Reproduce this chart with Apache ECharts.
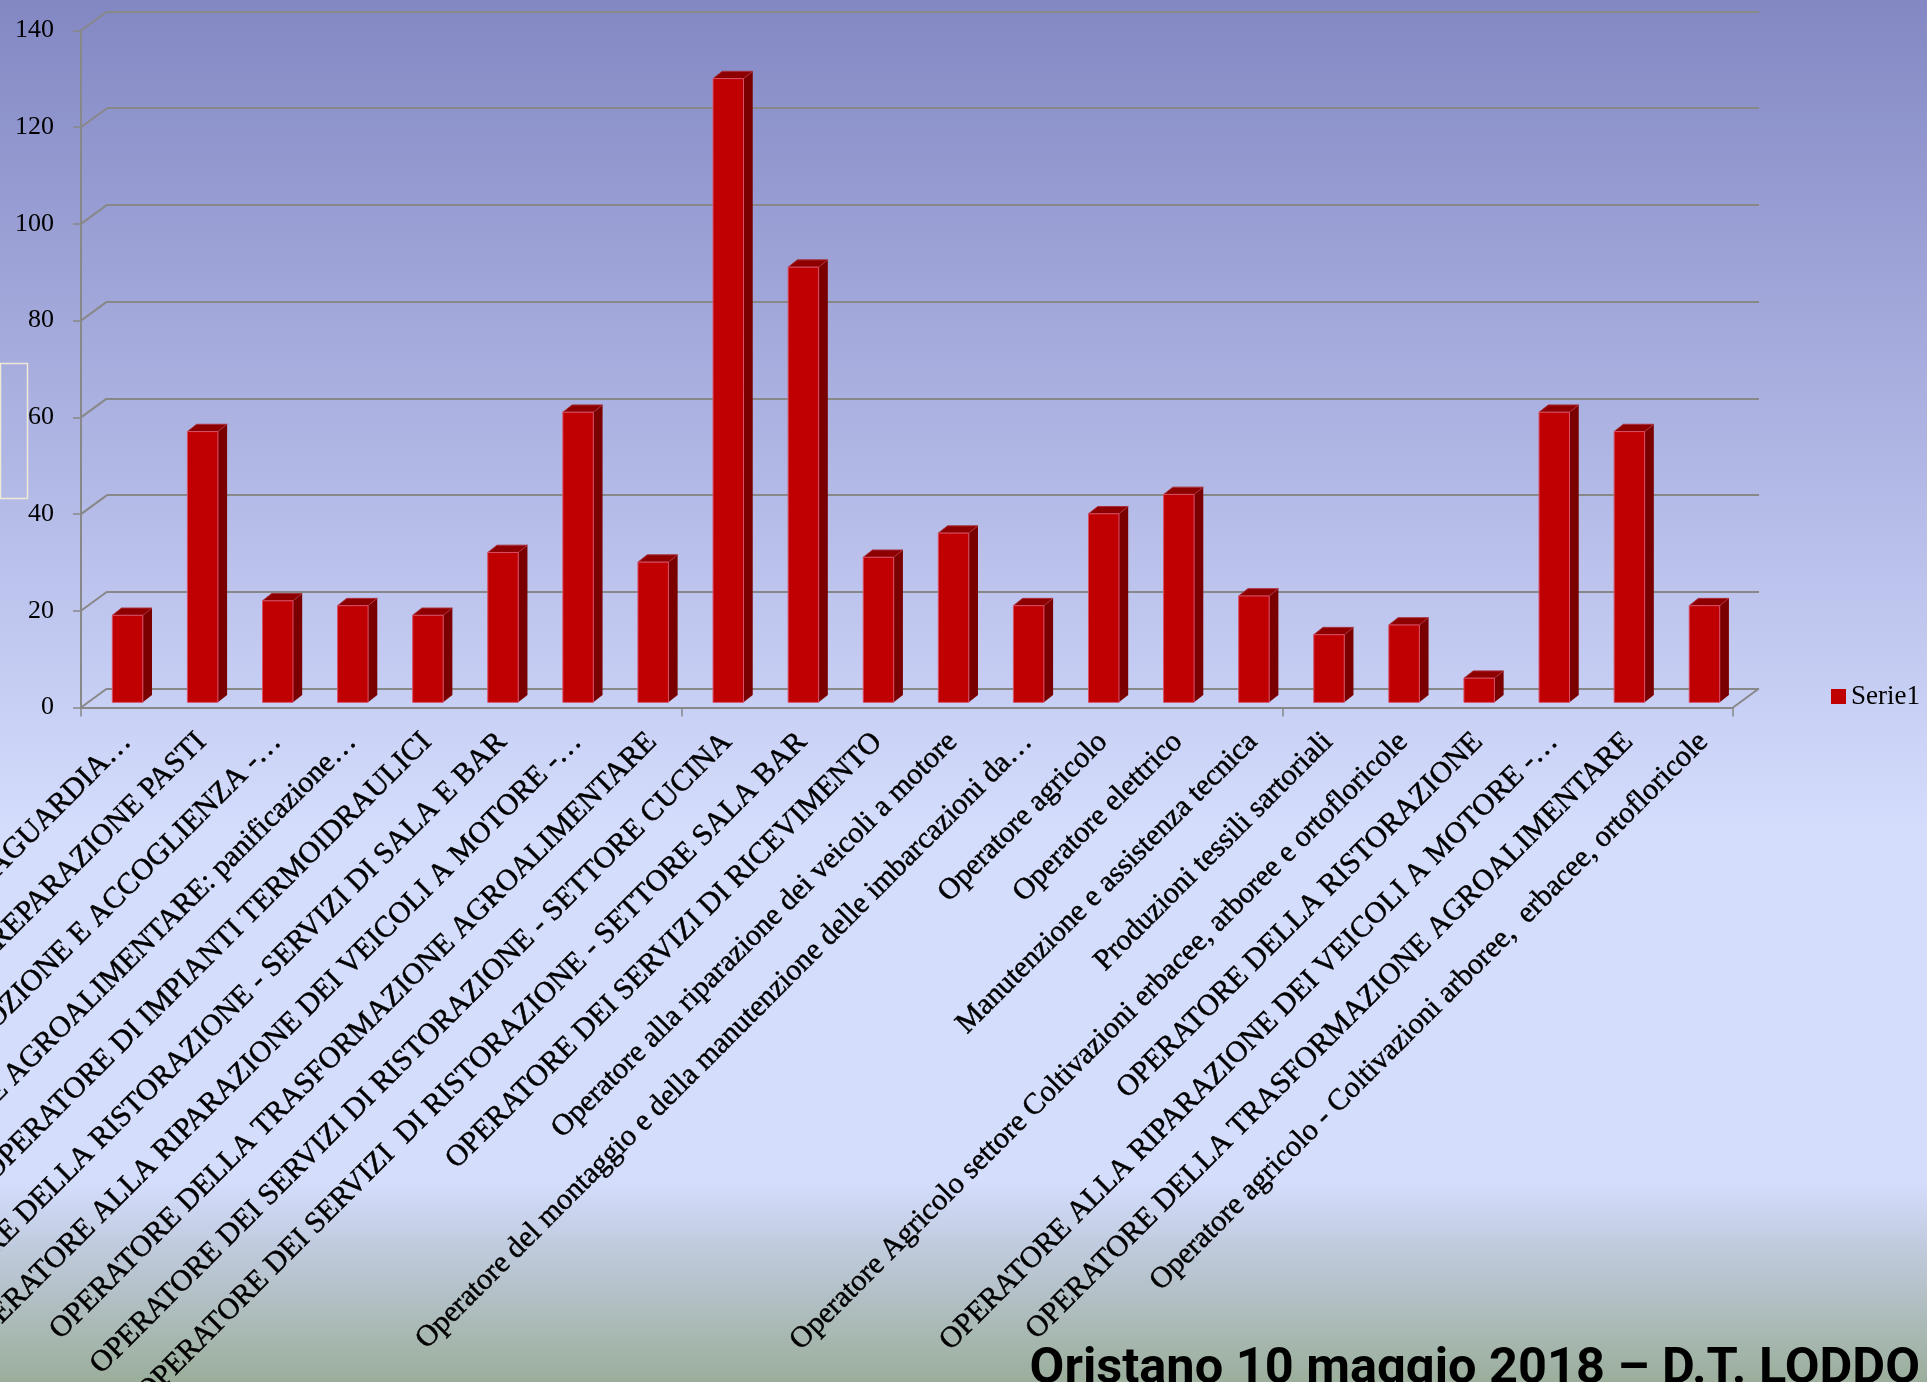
<!DOCTYPE html>
<html lang="it">
<head>
    <meta http-equiv="content-type" content="text/html; charset=utf-8" />
    <script type="text/javascript" src="https://cdn.jsdelivr.net/npm/echarts@6/dist/echarts.min.js"></script>
    <title>Iscritti per qualifica</title>
    <style>
        html, body { margin: 0; padding: 0; }
        #chart { width: 1927px; height: 1382px; }
    </style>
</head>
<body>
<div id="chart"></div>
<script type="text/javascript">
    // dati
    var categories = [
        "OPERATORE AGRICOLO - SALVAGUARDIA…",
        "OPERATORE DELLA RISTORAZIONE - PREPARAZIONE PASTI",
        "OPERATORE AI SERVIZI DI PROMOZIONE E ACCOGLIENZA -…",
        "OPERATORE DELLA TRASFORMAZIONE AGROALIMENTARE: panificazione…",
        "OPERATORE DI IMPIANTI TERMOIDRAULICI",
        "OPERATORE DELLA RISTORAZIONE - SERVIZI DI SALA E BAR",
        "OPERATORE ALLA RIPARAZIONE DEI VEICOLI A MOTORE -…",
        "OPERATORE DELLA TRASFORMAZIONE AGROALIMENTARE",
        "OPERATORE DEI SERVIZI DI RISTORAZIONE - SETTORE CUCINA",
        "OPERATORE DEI SERVIZI  DI RISTORAZIONE - SETTORE SALA BAR",
        "OPERATORE DEI SERVIZI DI RICEVIMENTO",
        "Operatore alla riparazione dei veicoli a motore",
        "Operatore del montaggio e della manutenzione delle imbarcazioni da…",
        "Operatore agricolo",
        "Operatore elettrico",
        "Manutenzione e assistenza tecnica",
        "Produzioni tessili sartoriali",
        "Operatore Agricolo settore Coltivazioni erbacee, arboree e ortofloricole",
        "OPERATORE DELLA RISTORAZIONE",
        "OPERATORE ALLA RIPARAZIONE DEI VEICOLI A MOTORE -…",
        "OPERATORE DELLA TRASFORMAZIONE AGROALIMENTARE",
        "Operatore agricolo - Coltivazioni arboree,  erbacee, ortofloricole"
    ];
    var serie1 = [18, 56, 21, 20, 18, 31, 60, 29, 129, 90, 30, 35, 20, 39, 43, 22, 14, 16, 5, 60, 56, 20];
    var yTicks = [0, 20, 40, 60, 80, 100, 120, 140];
    var seriesName = "Serie1";
    var footer = "Oristano 10 maggio 2018 – D.T. LODDO";

    // geometria del finto 3D
    var DX = 26, DY = -19;
    var GRID = {left: 81, top: 30.5, width: 1652, height: 677};
    var LABEL_DX = 8;
    var GRAY = '#888888';
    var yMin = yTicks[0], yMax = yTicks[yTicks.length - 1], yStep = yTicks[1] - yTicks[0];

    var chart = echarts.init(document.getElementById('chart'));

    function frame(params, api) {
        var cs = params.coordSys;
        var kids = [];
        for (var i = 0; i < yTicks.length; i++) {
            var y = api.coord([0, yTicks[i]])[1];
            kids.push({type: 'line', shape: {x1: cs.x, y1: y, x2: cs.x + DX, y2: y + DY},
                style: {stroke: GRAY, lineWidth: 2}});
        }
        var yb = api.coord([0, 0])[1];
        var xr = cs.x + cs.width;
        kids.push({type: 'line', shape: {x1: xr, y1: yb, x2: xr + DX, y2: yb + DY},
            style: {stroke: GRAY, lineWidth: 2}});
        return {type: 'group', children: kids};
    }

    function bar3d(params, api) {
        var base = api.coord([api.value(0), 0]);
        var top = api.coord([api.value(0), api.value(1)]);
        var band = api.size([1, 0])[0];
        var w = band * 0.406;
        var cx = base[0] + band * 0.12;
        var x0 = cx - w / 2, x1 = cx + w / 2;
        var off = DY * 0.27;
        var yb = base[1] + off, yt = top[1] + off;
        var sx = DX * 0.354, sy = DY * 0.384;
        return {type: 'group', children: [
            {type: 'polygon', shape: {points: [[x1, yt], [x1 + sx, yt + sy], [x1 + sx, yb + sy], [x1, yb]]},
                style: {fill: '#7A0000'}},
            {type: 'polygon', shape: {points: [[x0, yt], [x0 + sx, yt + sy], [x1 + sx, yt + sy], [x1, yt]]},
                style: {fill: '#8E0000', stroke: '#A8303C', lineWidth: 1}},
            {type: 'rect', shape: {x: x0, y: yt, width: w, height: yb - yt},
                style: {fill: '#C00000', stroke: '#D8506A', lineWidth: 1}}
        ]};
    }

    var option = {
        backgroundColor: {
            type: 'linear', x: 0, y: 0, x2: 0, y2: 1,
            colorStops: [
                {offset: 0, color: '#8388C4'},
                {offset: 0.5, color: '#C7CEF4'},
                {offset: 0.6, color: '#D4DDFC'},
                {offset: 0.855, color: '#D4DDFC'},
                {offset: 0.9, color: '#C1CBDF'},
                {offset: 1, color: '#9BAE9B'}
            ]
        },
        animation: false,
        grid: [
            {left: GRID.left, top: GRID.top, width: GRID.width, height: GRID.height, outerBoundsMode: 'none'},
            {left: GRID.left + DX, top: GRID.top + DY, width: GRID.width, height: GRID.height, outerBoundsMode: 'none'},
            {left: GRID.left + LABEL_DX, top: GRID.top, width: GRID.width, height: GRID.height, outerBoundsMode: 'none'}
        ],
        legend: {
            data: [seriesName],
            left: 1831, top: 683, padding: 0,
            icon: 'rect', itemWidth: 15, itemHeight: 15,
            textStyle: {fontFamily: 'Liberation Serif', fontSize: 27, color: '#000'}
        },
        xAxis: [
            {type: 'category', gridIndex: 0, data: categories,
                axisLine: {lineStyle: {color: GRAY, width: 2}},
                axisTick: {show: true, length: 9, lineStyle: {color: GRAY, width: 1.5}},
                axisLabel: {show: false}, splitLine: {show: false}},
            {type: 'category', gridIndex: 1, data: categories, show: false},
            {type: 'category', gridIndex: 2, data: categories,
                axisLine: {show: false}, axisTick: {show: false},
                axisLabel: {interval: 0, rotate: 45, margin: 30, fontFamily: 'Liberation Serif',
                    fontSize: 30, color: '#000', textBorderColor: '#000', textBorderWidth: 0.5}}
        ],
        yAxis: [
            {type: 'value', gridIndex: 0, min: yMin, max: yMax, interval: yStep,
                axisLine: {show: true, lineStyle: {color: GRAY, width: 2}},
                axisTick: {show: true, length: 8, lineStyle: {color: GRAY, width: 1.5}},
                axisLabel: {margin: 27, fontFamily: 'Liberation Serif', fontSize: 26, color: '#000'},
                splitLine: {show: false}},
            {type: 'value', gridIndex: 1, min: yMin, max: yMax, interval: yStep,
                axisLine: {show: false}, axisTick: {show: false}, axisLabel: {show: false},
                splitLine: {show: true, lineStyle: {color: GRAY, width: 2}}},
            {type: 'value', gridIndex: 2, min: yMin, max: yMax, show: false}
        ],
        series: [
            {type: 'custom', name: 'telaio', xAxisIndex: 0, yAxisIndex: 0, silent: true, z: 1,
                data: [[0, 0]], renderItem: frame},
            {type: 'custom', name: seriesName, xAxisIndex: 0, yAxisIndex: 0, z: 3,
                itemStyle: {color: '#C00000'},
                encode: {x: 0, y: 1},
                data: serie1.map(function (v, i) { return [i, v]; }),
                renderItem: bar3d}
        ],
        graphic: [
            {type: 'rect', left: -2, top: 361, shape: {width: 27, height: 135},
                style: {fill: 'none', stroke: '#EEEAD6', lineWidth: 1.5}},
            {type: 'text', right: 7, top: 1345,
                style: {text: footer, font: 'bold 50.5px Roboto', fill: '#000'}}
        ]
    };
    chart.setOption(option);
</script>
</body>
</html>
